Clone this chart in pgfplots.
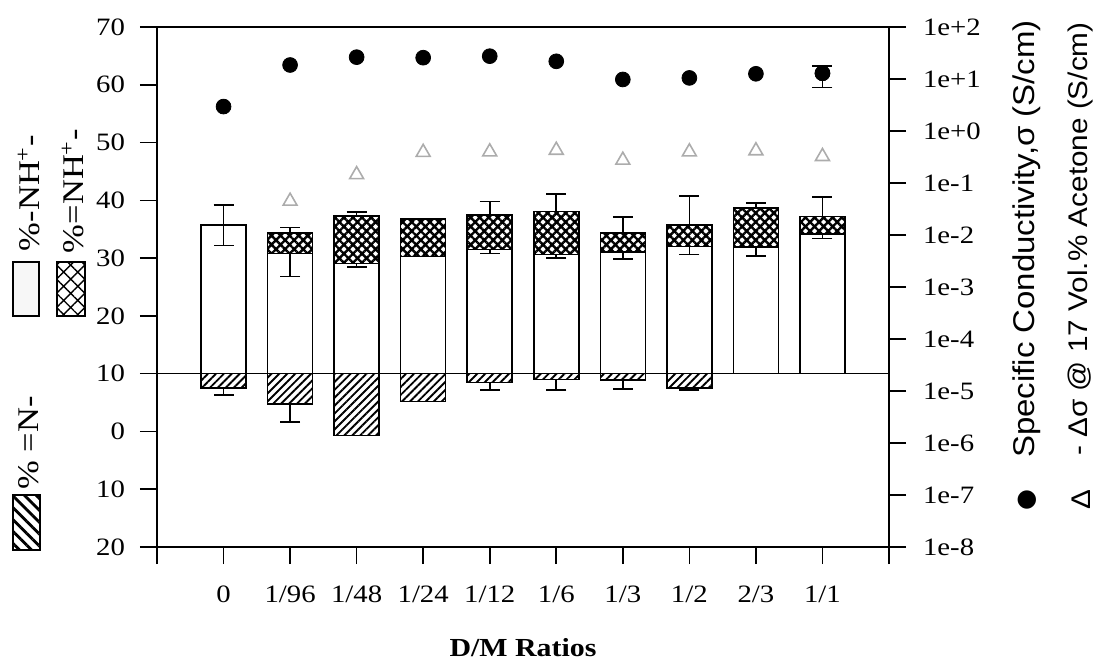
\documentclass[border=0pt]{standalone}
\usepackage{fontspec}
\setmainfont{Liberation Serif}[FakeStretch=1.15]
\newfontfamily\lblsans{Liberation Sans}[FakeStretch=1.1]
\newfontfamily\symfont{DejaVu Sans}
\usepackage{pgfplots}
\pgfplotsset{compat=1.18}
\usepackage{pgfplotstable}
\usetikzlibrary{patterns.meta}

% Composition per D/M ratio, measured from the 10 % base line.
% nh  : %-NH+-  (open bar height)
% nhq : %=NH+-  (cross-hatched part stacked on top)
% n   : %=N-    (hatched bar depth below the base line)
% eq  : upper error of the stacked top
% ewu, ewd : upper / lower error of the open bar top
% en  : lower error of the hatched bar bottom
\pgfplotstableread{
x  nh    nhq  n     eq   ewu  ewd  en
0  25.7  0.0  2.5   0.0  3.5  3.5  1.2
1  20.8  3.6  5.2   0.9  0.0  4.0  3.2
2  19.1  8.2  10.7  0.7  0.0  0.6  0.0
3  20.3  6.5  4.8   0.0  0.0  0.0  0.0
4  21.5  6.0  1.5   2.3  0.0  0.7  1.3
5  20.6  7.5  1.0   3.0  0.0  0.6  1.8
6  21.1  3.2  1.1   2.8  0.0  1.3  1.6
7  22.0  3.7  2.5   5.1  0.0  1.4  0.3
8  21.9  6.8  0.0   0.8  0.0  1.5  0.0
9  24.2  3.0  0.0   3.4  0.0  0.8  0.0
}\composition

% Conductivity (S/cm)
\pgfplotstableread{
x  sigma  dsigma
0  2.95   nan
1  18.6   0.0447
2  26.3   0.145
3  25.7   0.389
4  27.5   0.398
5  21.9   0.427
6  9.8    0.275
7  10.5   0.398
8  12.6   0.417
9  12.9   0.324
}\conductivity

\begin{document}
\begin{tikzpicture}
\useasboundingbox (-78.5pt,-57pt) rectangle (471pt,273.5pt);

\pgfplotsset{
  errstyle/.style={
    draw=none, forget plot,
    error bars/y explicit,
    error bars/y dir=#1,
    error bars/error bar style={black, line width=0.8pt},
    error bars/error mark options={rotate=90, mark size=5pt, line width=0.8pt, black},
  },
}

\begin{axis}[
  at={(0pt,0pt)}, anchor=south west,
  scale only axis, width=366pt, height=260pt,
  xmin=-1, xmax=10, ymin=-30, ymax=60,
  axis line style={black, line width=0.8pt},
  tick style={black, line width=0.8pt},
  tick align=outside, major tick length=8.5pt,
  xtick pos=lower, ytick pos=left,
  xtick={-1,0,...,10},
  xticklabels={,0,1/96,1/48,1/24,1/12,1/6,1/3,1/2,2/3,1/1,},
  ytick={-30,-20,...,60},
  yticklabels={20,10,0,10,20,30,40,50,60,70},
  ticklabel style={font=\fontsize{12.5}{14}\selectfont},
  xticklabel style={yshift=-7.5pt},
  yticklabel style={xshift=-4pt},
  xlabel={D/M Ratios},
  xlabel style={at={(axis description cs:0.5,0)}, anchor=center,
    yshift=-50.5pt, font=\bfseries\fontsize{13}{15}\selectfont},
]
% cross-hatched %=NH+- stacked above the open bars
\addplot[ybar, bar width=22.5pt, bar shift=0pt, draw=black, line width=0.8pt,
  pattern={Hatch[angle=45, distance=3.2pt, line width=1.2pt]}]
  table[x=x, y expr=\thisrow{nh}+\thisrow{nhq}] {\composition};
% open %-NH+- bars
\addplot[ybar, bar width=22.5pt, bar shift=0pt, draw=black, line width=0.8pt,
  fill=white]
  table[x=x, y=nh] {\composition};
% hatched %=N- bars below the base line
\addplot[ybar, bar width=22.5pt, bar shift=0pt, draw=black, line width=0.8pt,
  pattern={Lines[angle=45, distance=2.8pt, line width=0.95pt]}]
  table[x=x, y expr=-\thisrow{n}] {\composition};
% base line at 10 %
\addplot[black, line width=0.8pt, forget plot] coordinates {(-1,0) (10,0)};
% error bars
\addplot[errstyle=plus]
  table[x=x, y expr=\thisrow{nh}+\thisrow{nhq}, y error=eq] {\composition};
\addplot[errstyle=plus]
  table[x=x, y=nh, y error=ewu] {\composition};
\addplot[errstyle=minus]
  table[x=x, y=nh, y error=ewd] {\composition};
\addplot[errstyle=minus]
  table[x=x, y expr=-\thisrow{n}, y error=en] {\composition};
\end{axis}

\begin{axis}[
  at={(0pt,0pt)}, anchor=south west,
  scale only axis, width=366pt, height=260pt,
  xmin=-1, xmax=10,
  ymode=log, ymin=1e-8, ymax=1e2,
  axis x line=none, axis y line*=right,
  axis line style={black, line width=0.8pt},
  tick style={black, line width=0.8pt},
  tick align=outside, major tick length=8.5pt,
  yminorticks=false,
  ytick={1e-8,1e-7,1e-6,1e-5,1e-4,1e-3,1e-2,1e-1,1,10,100},
  yticklabels={1e-8,1e-7,1e-6,1e-5,1e-4,1e-3,1e-2,1e-1,1e+0,1e+1,1e+2},
  yticklabel style={font=\fontsize{12.5}{14}\selectfont, xshift=5pt},
  clip=false,
]
% Delta sigma in acetone vapour
\addplot[only marks, mark=triangle, mark size=4pt,
  mark options={gray!65, line width=0.8pt}]
  table[x=x, y=dsigma] {\conductivity};
% specific conductivity
\addplot[only marks, mark=*, mark size=3.7pt, black]
  table[x=x, y=sigma] {\conductivity};
\addplot[only marks, mark=*, mark size=3.7pt, black, forget plot,
  error bars/.cd, y dir=both, y explicit,
  error bar style={black, line width=0.8pt},
  error mark options={rotate=90, mark size=5pt, line width=0.8pt, black}]
  coordinates {(9,12.9) += (0,4.9) -= (0,6.0)};
\end{axis}

% left keys
\draw[line width=0.8pt, fill=gray!6] (-72pt,115.5pt) rectangle (-59pt,142.5pt);
\draw[line width=0.8pt, pattern={Hatch[angle=45, distance=5pt, line width=0.7pt]}]
  (-50pt,115.5pt) rectangle (-36pt,142.5pt);
\draw[line width=0.8pt, pattern={Lines[angle=-45, distance=4.2pt, line width=1.4pt]}]
  (-72pt,-1.5pt) rectangle (-58.5pt,26pt);
\node[rotate=90, font=\fontsize{15}{17}\selectfont] at (-64pt,177pt)
  {\%-NH\textsuperscript{+}-};
\node[rotate=90, font=\fontsize{15}{17}\selectfont] at (-42pt,178pt)
  {\%=NH\textsuperscript{+}-};
\node[rotate=90, font=\fontsize{15}{17}\selectfont] at (-64pt,52pt)
  {\% =N-};

% right keys
\node[rotate=90, font=\symfont\fontsize{12}{14}\selectfont] at (435pt,23.5pt) {●};
\node[rotate=90, font=\lblsans\fontsize{15}{17}\selectfont] at (435pt,154pt)
  {Specific Conductivity,σ (S/cm)};
\node[rotate=90, font=\lblsans\fontsize{13.5}{15}\selectfont] at (462pt,23.5pt) {Δ};
\node[rotate=90, font=\lblsans\fontsize{13.5}{15}\selectfont] at (462pt,154pt)
  {- Δσ @ 17 Vol.\% Acetone (S/cm)};
\end{tikzpicture}
\end{document}
